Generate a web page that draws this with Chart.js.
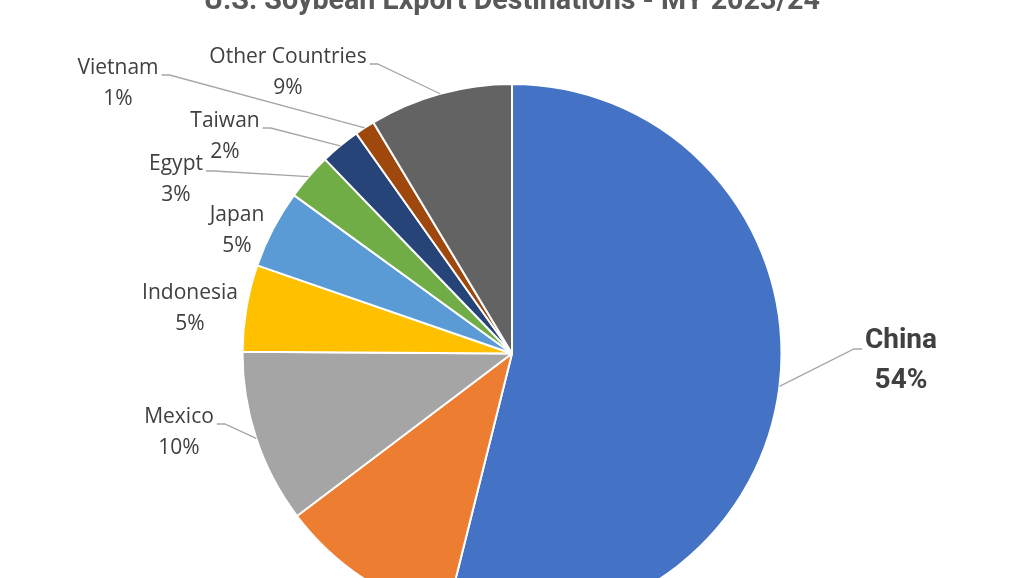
<!DOCTYPE html>
<html>
<head>
<meta charset="utf-8">
<title>U.S. Soybean Export Destinations - MY 2023/24</title>
<script src="https://cdn.jsdelivr.net/npm/chart.js@4.4.1/dist/chart.umd.min.js"></script>
<style>
  html, body { margin: 0; padding: 0; background: #fff; }
  #wrap { position: relative; width: 1024px; height: 578px; overflow: hidden; }
  #pie { position: absolute; left: 0; top: 0; }
</style>
</head>
<body>
<div id="wrap"><canvas id="pie" width="1024" height="624"></canvas></div>
<script>
// shares of US soybean exports (%)
const countries = ['China', 'European Union', 'Mexico', 'Indonesia', 'Japan', 'Egypt', 'Taiwan', 'Vietnam', 'Other Countries'];
const shares = [53.9, 10.8, 10.4, 5.2, 4.7, 2.8, 2.4, 1.2, 8.6];
const sliceColors = ['#4472C4', '#ED7D31', '#A5A5A5', '#FFC000', '#5B9BD5', '#70AD47', '#264478', '#9E480E', '#636363'];
const chartTitle = 'U.S. Soybean Export Destinations - MY 2023/24';

// label layout: centre x, first baseline y, side where the leader line leaves (null = no line)
const labelSpots = [
  [901, 348, 'left'],
  [330, 640, 'right'],   // falls below the crop
  [179, 423, 'right'],
  [190, 299, null],
  [237, 221, null],
  [176, 170, 'right'],
  [225, 127, 'right'],
  [118, 74, 'right'],
  [288, 63, 'right']
];

// names + percentages with Excel-like leader lines
const pieLabels = {
  id: 'pieLabels',
  afterDatasetsDraw(chart) {
    const ctx = chart.ctx;
    const arcs = chart.getDatasetMeta(0).data;
    const total = shares.reduce((a, b) => a + b, 0);
    ctx.save();
    arcs.forEach(function (arc, i) {
      const x = labelSpots[i][0], y = labelSpots[i][1], side = labelSpots[i][2];
      const big = i === 0;
      ctx.font = big ? 'bold 28px Roboto' : '21px "Open Sans"';
      ctx.fillStyle = '#404040';
      ctx.textAlign = 'center';
      ctx.textBaseline = 'alphabetic';
      ctx.fillText(countries[i], x, y);
      ctx.fillText(Math.round(shares[i] / total * 100) + '%', x, y + (big ? 40 : 31));

      if (side) {
        const p = arc.getProps(['x', 'y', 'startAngle', 'endAngle', 'outerRadius'], true);
        const mid = (p.startAngle + p.endAngle) / 2;
        const ex = p.x + Math.cos(mid) * p.outerRadius;
        const ey = p.y + Math.sin(mid) * p.outerRadius;
        const half = ctx.measureText(countries[i]).width / 2;
        const dir = side === 'right' ? 1 : -1;
        const sx = x + dir * (half + 3);
        const ly = y + 1;
        ctx.strokeStyle = '#A6A6A6';
        ctx.lineWidth = 1.3;
        ctx.beginPath();
        ctx.moveTo(sx, ly);
        ctx.lineTo(sx + dir * 8, ly);
        ctx.lineTo(ex, ey);
        ctx.stroke();
      }
    });
    ctx.restore();
  }
};

// title sits mostly above the crop, only its lower part shows
const topTitle = {
  id: 'topTitle',
  afterDraw(chart) {
    const ctx = chart.ctx;
    ctx.save();
    ctx.font = 'bold 30px Roboto';
    ctx.fillStyle = '#595959';
    ctx.textAlign = 'center';
    ctx.textBaseline = 'alphabetic';
    const w = ctx.measureText(chartTitle).width;
    ctx.translate(512, 9);
    ctx.scale(616 / w, 1);
    ctx.fillText(chartTitle, 0, 0);
    ctx.restore();
  }
};

new Chart(document.getElementById('pie'), {
  type: 'pie',
  data: {
    labels: countries,
    datasets: [{
      data: shares,
      backgroundColor: sliceColors,
      borderColor: '#FFFFFF',
      borderWidth: 2
    }]
  },
  options: {
    responsive: false,
    animation: false,
    layout: {
      padding: { top: 83 }
    },
    plugins: {
      legend: { display: false },
      tooltip: { enabled: false },
      title: { display: false }
    }
  },
  plugins: [pieLabels, topTitle]
});
</script>
</body>
</html>
